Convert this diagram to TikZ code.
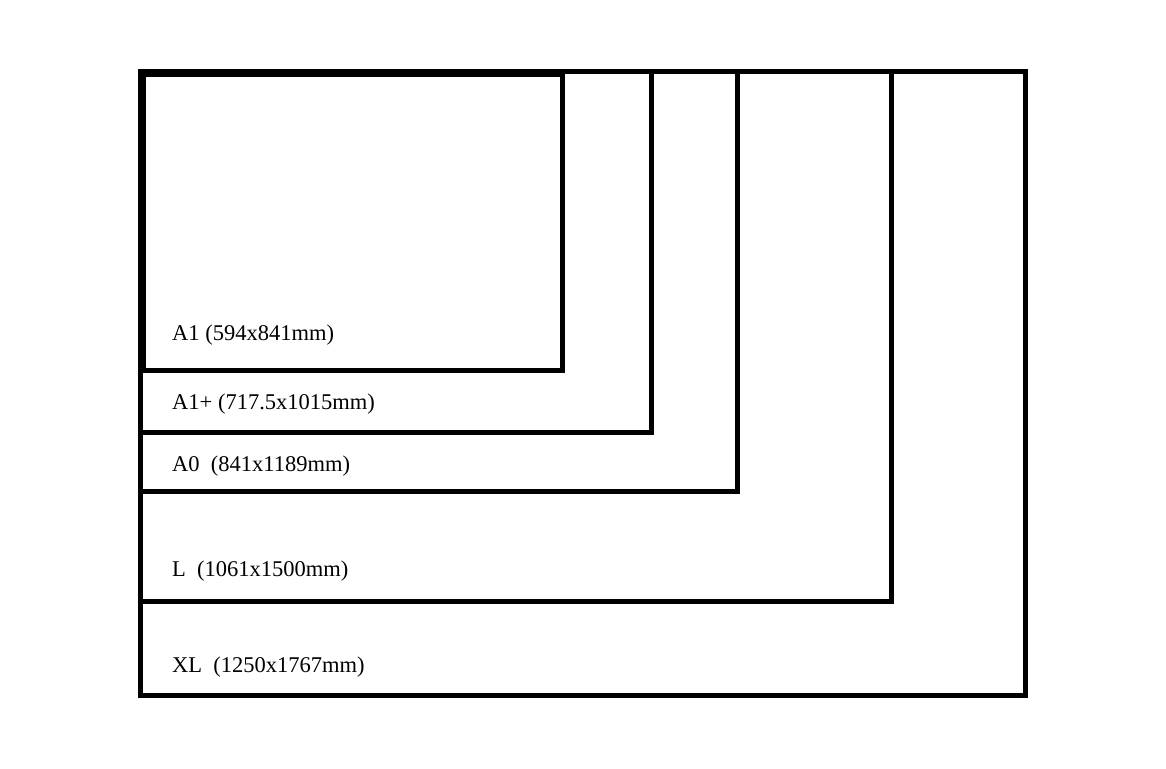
\documentclass[tikz,border=0pt]{standalone}
\usepackage{fontspec}
\setmainfont{Liberation Serif}
\usepackage{tikz}

\begin{document}
\begin{tikzpicture}[x=1pt,y=-1pt]
  \path[use as bounding box] (0,0) rectangle (1166,768);

  \tikzset{
    paperFrame/.style={
      draw=black,
      line width=5pt,
      line join=miter
    },
    paperLabel/.style={
      anchor=base west,
      inner sep=0pt,
      font=\fontsize{22.5}{26}\selectfont,
      text=black
    }
  }

  % sheet outlines, largest first; all share the top left corner
  \draw[paperFrame] (140.5,71.5) rectangle (1025.5,695);
  \draw[paperFrame] (140.5,71.5) rectangle (891.5,601);
  \draw[paperFrame] (140.5,71.5) rectangle (737.5,491);
  \draw[paperFrame] (140.5,71.5) rectangle (651.5,432);
  \draw[paperFrame] (143.5,74.5) rectangle (562.5,370);

  \node[paperLabel] (labelA1) at (172,340) {A1 (594x841mm)};
  \node[paperLabel] (labelA1plus) at (172,409) {A1+ (717.5x1015mm)};
  \node[paperLabel] (labelA0) at (172,471) {A0\ \ (841x1189mm)};
  \node[paperLabel] (labelL) at (172,576) {L\ \ (1061x1500mm)};
  \node[paperLabel] (labelXL) at (172,672) {XL\ \ (1250x1767mm)};
\end{tikzpicture}
\end{document}
